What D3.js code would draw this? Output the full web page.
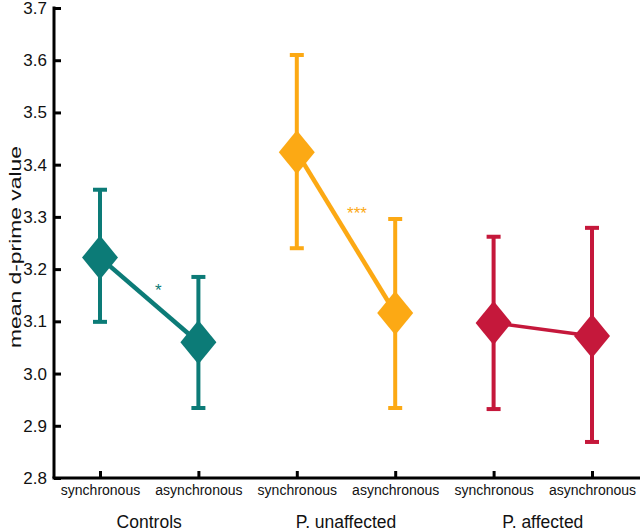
<!DOCTYPE html>
<html><head><meta charset="utf-8">
<script src="https://cdn.jsdelivr.net/npm/d3@7"></script>
<style>body{margin:0;background:#fff}svg{display:block}text{font-family:"Liberation Sans",Arial,sans-serif}</style>
</head><body>
<svg id="chart" width="640" height="531"></svg>
<script>
const groups = ["Controls", "P. unaffected", "P. affected"];
const conditions = ["synchronous", "asynchronous"];
const groupColors = ["#0c7b77", "#fca914", "#c5183b"];
const means = [[3.222, 3.060], [3.424, 3.116], [3.097, 3.072]];
const upper = [[3.352, 3.185], [3.610, 3.296], [3.262, 3.279]];
const lower = [[3.099, 2.934], [3.240, 2.934], [2.932, 2.869]];
const stars = ["*", "***", ""];
const yTicks = [2.8, 2.9, 3.0, 3.1, 3.2, 3.3, 3.4, 3.5, 3.6, 3.7];
const yLabel = "mean d-prime value";

// layout-only: star offsets relative to the connecting line midpoint
const starOffsets = [[9, -4], [11, -14], [0, 0]];

const svg = d3.select("#chart");
const axisX = 54, axisY = 478;
const y = d3.scaleLinear().domain([2.8, 3.7]).range([478, 8]);
const keys = [];
groups.forEach((g, gi) => conditions.forEach((c, ci) => keys.push(gi + "-" + ci)));
const x = d3.scalePoint().domain(keys).range([100, 592]);

// axes
const yAxis = svg.append("g").attr("transform", `translate(${axisX},0)`)
  .call(d3.axisLeft(y).tickValues(yTicks).tickFormat(d3.format(".1f")).tickSizeInner(-7).tickSizeOuter(0).tickPadding(7));
yAxis.select(".domain").attr("stroke", "#000").attr("stroke-width", 3).attr("d", `M0,${axisY}V6.5`);
yAxis.selectAll(".tick line").attr("stroke", "#000").attr("stroke-width", 3);
yAxis.selectAll(".tick text").attr("font-size", 17).attr("fill", "#111");

const xAxis = svg.append("g").attr("transform", `translate(0,${axisY})`)
  .call(d3.axisBottom(x).tickFormat(k => conditions[+k.split("-")[1]]).tickSizeInner(-7).tickSizeOuter(0).tickPadding(7));
xAxis.select(".domain").attr("stroke", "#000").attr("stroke-width", 3).attr("d", `M${axisX - 1.5},0H640`);
xAxis.selectAll(".tick line").attr("stroke", "#000").attr("stroke-width", 3);
xAxis.selectAll(".tick text").attr("font-size", 14).attr("fill", "#111");

// group labels
groups.forEach((g, gi) => {
  const cx = (x(gi + "-0") + x(gi + "-1")) / 2;
  svg.append("text").attr("x", cx).attr("y", 528).attr("text-anchor", "middle")
    .attr("font-size", 17.5).attr("fill", "#111").text(g);
});

// y label
svg.append("text").attr("transform", `translate(21,247) rotate(-90)`).attr("text-anchor", "middle")
  .attr("font-size", 17).attr("textLength", 202).attr("lengthAdjust", "spacingAndGlyphs")
  .attr("fill", "#111").text(yLabel);

// series
groups.forEach((g, gi) => {
  const col = groupColors[gi];
  const gg = svg.append("g");
  const pts = conditions.map((c, ci) => ({ x: x(gi + "-" + ci), m: means[gi][ci], hi: upper[gi][ci], lo: lower[gi][ci] }));
  pts.forEach(p => {
    gg.append("line").attr("x1", p.x).attr("x2", p.x).attr("y1", y(p.hi)).attr("y2", y(p.lo))
      .attr("stroke", col).attr("stroke-width", 4);
    [p.hi, p.lo].forEach(v => gg.append("line").attr("x1", p.x - 7).attr("x2", p.x + 7)
      .attr("y1", y(v)).attr("y2", y(v)).attr("stroke", col).attr("stroke-width", 4));
  });
  gg.append("path").attr("d", d3.line().x(p => p.x).y(p => y(p.m))(pts))
    .attr("fill", "none").attr("stroke", col).attr("stroke-width", gi === 2 ? 3.5 : 4.5);
  pts.forEach(p => {
    const cy = y(p.m), hw = 18, hh = 22;
    gg.append("path").attr("d", `M${p.x},${cy - hh}L${p.x + hw},${cy}L${p.x},${cy + hh}L${p.x - hw},${cy}Z`)
      .attr("fill", col);
  });
  if (stars[gi]) {
    const mx = (pts[0].x + pts[1].x) / 2 + starOffsets[gi][0];
    const my = (y(pts[0].m) + y(pts[1].m)) / 2 + starOffsets[gi][1];
    gg.append("text").attr("x", mx).attr("y", my).attr("text-anchor", "middle")
      .attr("font-size", 17).attr("fill", col).text(stars[gi]);
  }
});
</script>
</body></html>
